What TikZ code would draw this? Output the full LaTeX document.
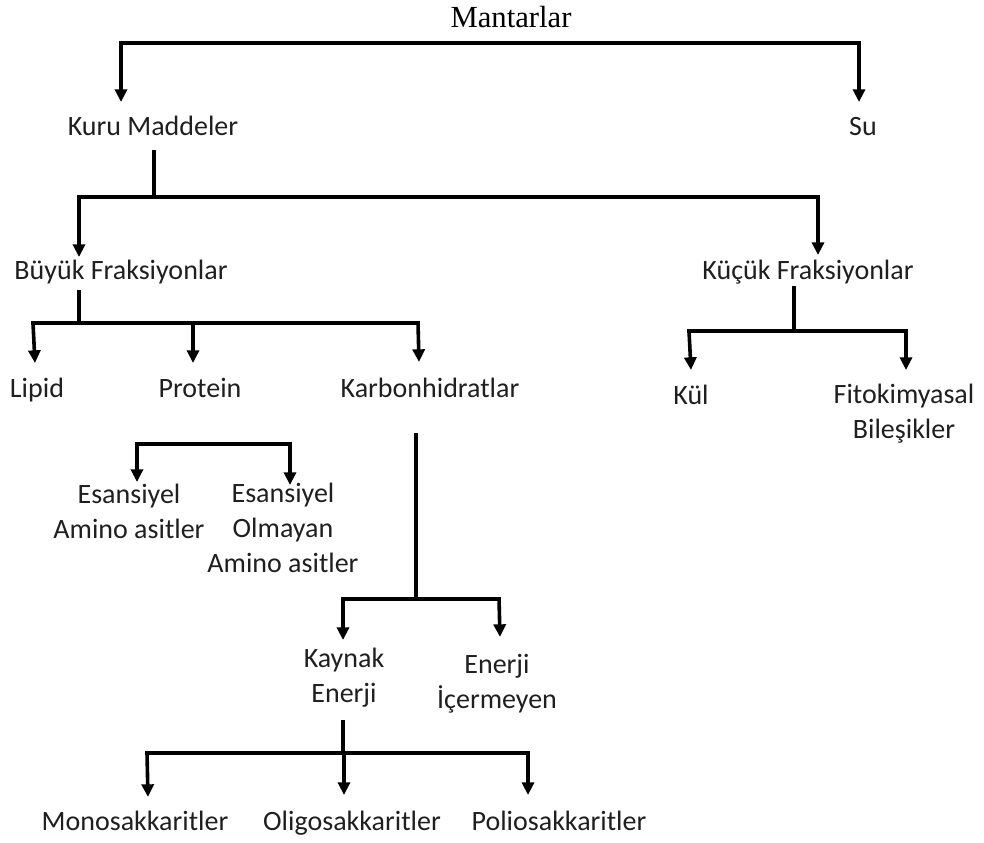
\documentclass[tikz,border=0pt]{standalone}
\usepackage{fontspec}
\setmainfont{Carlito}
\newfontfamily\timesf{Liberation Serif}
\usetikzlibrary{arrows.meta}
\begin{document}
\begin{tikzpicture}[x=0.75pt,y=-0.75pt,
  lbl/.style={inner sep=0pt, anchor=base, font=\fontsize{21}{26}\selectfont, text=black!88},
  ml/.style={lbl, align=center},
  title/.style={inner sep=0pt, anchor=base, font=\timesf\fontsize{23}{28}\selectfont},
  conn/.style={line width=2.7pt, line cap=rect},
  arr/.style={line width=2.7pt, -{Triangle[length=9.5pt,width=9pt]}},
]
\useasboundingbox (0,0) rectangle (984,842);

% nodes (multi-line nodes are placed by the baseline of their last line)
\node[title] (man) at (511,28) {Mantarlar};
\node[lbl] (kuru) at (153,135) {Kuru Maddeler};
\node[lbl] (su) at (863,135) {Su};
\node[lbl] (buyuk) at (121,279) {Büyük Fraksiyonlar};
\node[lbl] (kucuk) at (808,279) {Küçük Fraksiyonlar};
\node[lbl] (lipid) at (37,397) {Lipid};
\node[lbl] (protein) at (200,397) {Protein};
\node[lbl] (karbon) at (430,397) {Karbonhidratlar};
\node[lbl] (kul) at (691,404) {Kül};
\node[ml] (fito) at (904,438) {Fitokimyasal\\Bileşikler};
\node[ml] (eaa) at (129,538) {Esansiyel\\Amino asitler};
\node[ml] (neaa) at (283,572) {Esansiyel\\Olmayan\\Amino asitler};
\node[ml] (kaynak) at (344,702) {Kaynak\\Enerji};
\node[ml] (icermeyen) at (497,708) {Enerji\\İçermeyen};
\node[lbl] (mono) at (135,830) {Monosakkaritler};
\node[lbl] (oligo) at (352,830) {Oligosakkaritler};
\node[lbl] (polio) at (559,830) {Poliosakkaritler};

% coordinates
\coordinate (aL) at (121,43);  \coordinate (aR) at (859,43);
\coordinate (tKuru) at (121,102); \coordinate (tSu) at (859,102);
\coordinate (sKuru) at (154,152); \coordinate (mKuru) at (154,197);
\coordinate (bL) at (79,197); \coordinate (bR) at (818,197);
\coordinate (tBuyuk) at (79,257); \coordinate (tKucuk) at (818,255);
\coordinate (sBuyuk) at (79,292); \coordinate (cL) at (33,323); \coordinate (cM) at (193,323); \coordinate (cR) at (418,323);
\coordinate (mBuyuk) at (79,323);
\coordinate (tLipid) at (35,363); \coordinate (tProtein) at (193,363); \coordinate (tKarbon) at (419,362);
\coordinate (sKucuk) at (794,288); \coordinate (mKucuk) at (794,331);
\coordinate (dL) at (689,331); \coordinate (dR) at (906,331);
\coordinate (tKul) at (691,370); \coordinate (tFito) at (906,370);
\coordinate (eL) at (137,444); \coordinate (eR) at (290,444);
\coordinate (tEaa) at (137,482); \coordinate (tNeaa) at (290,485);
\coordinate (sKarbon) at (416,435); \coordinate (mKarbon) at (416,599);
\coordinate (fL) at (343,599); \coordinate (fR) at (499,599);
\coordinate (tKaynak) at (343,640); \coordinate (tIcer) at (500,637);
\coordinate (sKaynak) at (343,722); \coordinate (mKaynak) at (343,753);
\coordinate (gL) at (147,753); \coordinate (gM) at (344,753); \coordinate (gR) at (528,753);
\coordinate (tMono) at (148,797); \coordinate (tOligo) at (344,795); \coordinate (tPolio) at (528,795);

% connectors
\draw[conn] (aL) -- (aR);
\draw[arr] (aL) -- (tKuru);
\draw[arr] (aR) -- (tSu);

\draw[conn] (sKuru) -- (mKuru);
\draw[conn] (bL) -- (bR);
\draw[arr] (bL) -- (tBuyuk);
\draw[arr] (bR) -- (tKucuk);

\draw[conn] (sBuyuk) -- (mBuyuk);
\draw[conn] (cL) -- (cR);
\draw[arr] (cL) -- (tLipid);
\draw[arr] (cM) -- (tProtein);
\draw[arr] (cR) -- (tKarbon);

\draw[conn] (sKucuk) -- (mKucuk);
\draw[conn] (dL) -- (dR);
\draw[arr] (dL) -- (tKul);
\draw[arr] (dR) -- (tFito);

\draw[conn] (eL) -- (eR);
\draw[arr] (eL) -- (tEaa);
\draw[arr] (eR) -- (tNeaa);

\draw[conn] (sKarbon) -- (mKarbon);
\draw[conn] (fL) -- (fR);
\draw[arr] (fL) -- (tKaynak);
\draw[arr] (fR) -- (tIcer);

\draw[conn] (sKaynak) -- (mKaynak);
\draw[conn] (gL) -- (gR);
\draw[arr] (gL) -- (tMono);
\draw[arr] (gM) -- (tOligo);
\draw[arr] (gR) -- (tPolio);
\end{tikzpicture}
\end{document}
